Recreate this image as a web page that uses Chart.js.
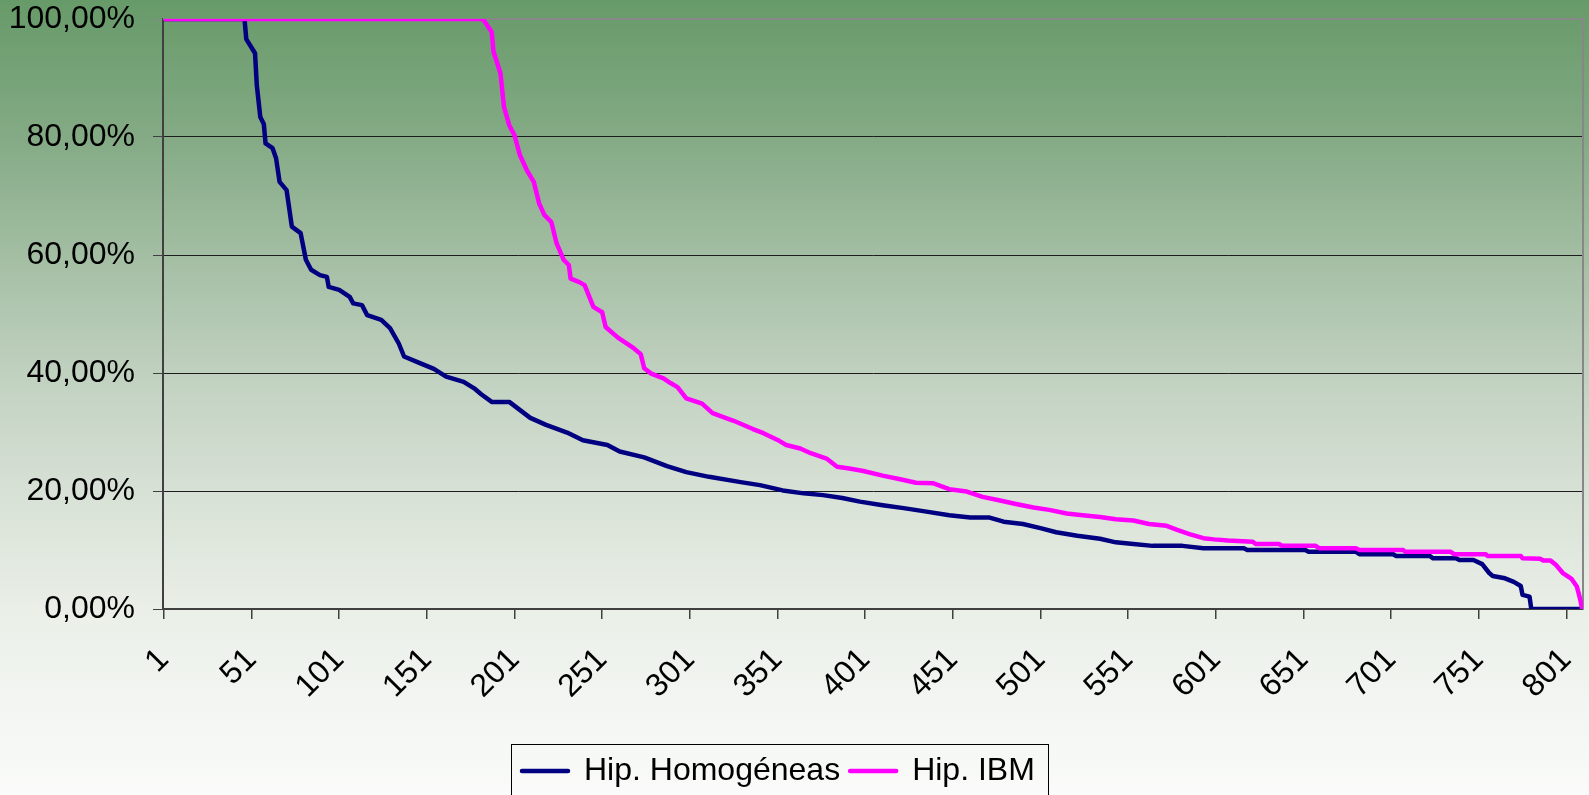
<!DOCTYPE html>
<html>
<head>
<meta charset="utf-8">
<script src="https://cdn.jsdelivr.net/npm/chart.js@4.4.1/dist/chart.umd.min.js"></script>
<style>
  html, body { margin: 0; padding: 0; background: #fff; }
  #wrap { position: relative; width: 1589px; height: 795px; }
</style>
</head>
<body>
<div id="wrap"><canvas id="chart"></canvas></div>
<script>
const seriesNames = ['Hip. Homogéneas', 'Hip. IBM']

// Hip. Homogéneas: case index / percentage
const homX = [1, 47, 48, 53, 54, 56, 58, 59, 63, 65, 67, 71, 74, 79, 82, 85, 90, 94, 95, 101,
  107, 109, 114, 117, 125, 130, 135, 138, 146, 155, 162, 172, 178, 182, 188, 198, 210, 219, 231, 240,
  254, 261, 275, 288, 299, 312, 330, 341, 354, 366, 377, 388, 398, 411, 423, 436, 449, 461, 472, 480,
  491, 501, 510, 522, 535, 544, 554, 565, 582, 594, 617, 619, 652, 654, 681, 683, 702, 704, 723, 725,
  738, 740, 748, 753, 757, 759, 766, 771, 775, 776, 780, 781, 810]
const homY = [100, 100, 96.6, 94.2, 88.8, 83.4, 82.2, 78.9, 78.1, 76.4, 72.4, 71.0, 64.8, 63.7, 59.2, 57.5, 56.6, 56.3, 54.6, 54.1,
  52.9, 51.8, 51.5, 49.8, 49.0, 47.6, 45.0, 42.8, 41.8, 40.7, 39.4, 38.5, 37.4, 36.4, 35.1, 35.1, 32.4, 31.2, 29.9, 28.6,
  27.8, 26.7, 25.7, 24.2, 23.2, 22.4, 21.5, 21.0, 20.1, 19.6, 19.3, 18.8, 18.2, 17.6, 17.1, 16.5, 15.9, 15.5, 15.5, 14.8,
  14.4, 13.7, 13.0, 12.4, 11.9, 11.3, 11.0, 10.7, 10.7, 10.3, 10.3, 10.0, 10.0, 9.7, 9.7, 9.3, 9.3, 9.0, 9.0, 8.6,
  8.6, 8.3, 8.3, 7.6, 6.1, 5.6, 5.2, 4.6, 3.9, 2.4, 2.1, 0, 0]

// Hip. IBM
const ibmX = [1, 183, 188, 189, 193, 195, 198, 201, 204, 208, 212, 215, 218, 222, 225, 229, 232, 233, 238, 241,
  246, 251, 253, 260, 269, 273, 275, 279, 286, 290, 294, 299, 308, 314, 326, 337, 343, 352, 356, 364,
  370, 379, 385, 392, 400, 411, 421, 430, 440, 449, 459, 468, 478, 487, 497, 506, 516, 525, 535, 544,
  554, 563, 573, 579, 586, 594, 600, 608, 622, 624, 637, 639, 658, 660, 681, 683, 708, 709, 735, 737,
  755, 756, 775, 776, 786, 788, 792, 795, 799, 804, 807, 808, 809, 810]
const ibmY = [100, 100, 97.8, 94.5, 90.8, 85.1, 82.0, 80.3, 77.0, 74.4, 72.4, 68.8, 66.8, 65.6, 62.0, 59.2, 58.3, 56.0, 55.4, 54.9,
  51.2, 50.3, 47.8, 46.0, 44.2, 43.2, 40.8, 39.9, 39.1, 38.3, 37.6, 35.7, 34.8, 33.2, 31.9, 30.5, 29.8, 28.5, 27.8, 27.2,
  26.4, 25.5, 24.1, 23.8, 23.4, 22.6, 22.0, 21.4, 21.3, 20.3, 19.9, 19.0, 18.4, 17.8, 17.2, 16.8, 16.2, 15.9, 15.6, 15.2,
  15.0, 14.4, 14.1, 13.4, 12.7, 12.0, 11.8, 11.6, 11.4, 11.0, 11.0, 10.7, 10.7, 10.3, 10.3, 10.0, 10.0, 9.7, 9.7, 9.3,
  9.3, 9.0, 9.0, 8.6, 8.5, 8.2, 8.2, 7.5, 6.1, 5.1, 3.8, 2.7, 1.5, 0]

const xTickValues = [1, 51, 101, 151, 201, 251, 301, 351, 401, 451, 501, 551, 601, 651, 701, 751, 801]
const xTickLabels = ['1', '51', '101', '151', '201', '251', '301', '351', '401', '451', '501', '551', '601', '651', '701', '751', '801']
const yTickValues = [0, 20, 40, 60, 80, 100]
const yTickLabels = ['0,00%', '20,00%', '40,00%', '60,00%', '80,00%', '100,00%']

const FONT = '"Liberation Sans", Arial, sans-serif'

const toPoints = (xs, ys) => xs.map((x, i) => ({x: x, y: ys[i]}))

// green to white fill behind everything
const backgroundPlugin = {
  id: 'background',
  beforeDraw(chart) {
    const {ctx, width, height} = chart
    const g = ctx.createLinearGradient(0, 0, 0, height)
    g.addColorStop(0, '#679a69')
    g.addColorStop(0.17, '#83aa84')
    g.addColorStop(0.33, '#a5bfa5')
    g.addColorStop(0.48, '#c2d2c1')
    g.addColorStop(0.63, '#d9e2d7')
    g.addColorStop(0.78, '#ebf0e9')
    g.addColorStop(1, '#fafbfa')
    ctx.save()
    ctx.fillStyle = g
    ctx.fillRect(0, 0, width, height)
    ctx.restore()
  }
}

// grey top and right edges of the plot area
const framePlugin = {
  id: 'frame',
  beforeDatasetsDraw(chart) {
    const {ctx, chartArea: a} = chart
    ctx.save()
    ctx.strokeStyle = '#878787'
    ctx.lineWidth = 2
    ctx.beginPath()
    ctx.moveTo(a.left, a.top)
    ctx.lineTo(a.right, a.top)
    ctx.lineTo(a.right, a.bottom)
    ctx.stroke()
    ctx.restore()
  }
}

// put the legend where the original has it (first line sample at x=522, text centre at y=771)
const legendPlacePlugin = {
  id: 'legendPlace',
  afterLayout(chart) {
    const lg = chart.legend
    if (!lg || !lg.legendHitBoxes || !lg.legendHitBoxes.length) return
    const pad = lg.options.labels.padding
    const itemH = lg.legendHitBoxes[0].height
    // same formulas the legend uses when it draws (align: center)
    const curLeft = (lg.left + pad + lg.right - lg.lineWidths[0]) / 2
    const curMid = lg.top + pad + itemH / 2
    const dx = 522 - curLeft
    const dy = 771 - curMid
    lg.left += dx
    lg.right += dx
    lg.top += dy
    lg.bottom += dy
  }
}

// box round the legend
const legendFramePlugin = {
  id: 'legendFrame',
  afterDraw(chart) {
    const lg = chart.legend
    if (!lg || !lg.legendHitBoxes || !lg.legendHitBoxes.length) return
    const pad = lg.options.labels.padding
    const boxes = lg.legendHitBoxes
    const first = boxes[0]
    const last = boxes[boxes.length - 1]
    const left = Math.round(first.left - 11) + 0.5
    const right = Math.round(last.left + last.width + 13) + 0.5
    const mid = lg.top + pad + first.height / 2
    const top = Math.round(mid - 27) + 0.5
    const ctx = chart.ctx
    ctx.save()
    ctx.strokeStyle = '#000'
    ctx.lineWidth = 1
    ctx.strokeRect(left, top, right - left, 120)
    ctx.restore()
  }
}

const config = {
  type: 'line',
  data: {
    datasets: [
      {
        label: seriesNames[0],
        data: toPoints(homX, homY),
        borderColor: '#000080',
        backgroundColor: '#000080',
        borderWidth: 4.5,
        pointRadius: 0,
        tension: 0,
        fill: false,
        borderJoinStyle: 'round',
        order: 2
      },
      {
        label: seriesNames[1],
        data: toPoints(ibmX, ibmY),
        borderColor: '#ff00ff',
        backgroundColor: '#ff00ff',
        borderWidth: 4.5,
        pointRadius: 0,
        tension: 0,
        fill: false,
        borderJoinStyle: 'round',
        order: 1
      }
    ]
  },
  options: {
    responsive: true,
    maintainAspectRatio: false,
    animation: false,
    devicePixelRatio: 1,
    events: [],
    layout: {
      padding: {top: 19, right: 6, bottom: 0, left: 0}
    },
    plugins: {
      tooltip: {enabled: false},
      legend: {
        position: 'bottom',
        labels: {
          font: {family: FONT, size: 32},
          color: '#000',
          boxWidth: 46,
          boxHeight: 0,
          padding: 10,
          sort: (a, b) => a.datasetIndex - b.datasetIndex
        }
      }
    },
    scales: {
      x: {
        type: 'linear',
        min: 0.5,
        max: 810.5,
        afterBuildTicks: (scale) => {
          scale.ticks = xTickValues.map(v => ({value: v}))
        },
        afterFit: (scale) => {
          // plot bottom fixed at y=609
          const legendH = scale.chart.legend ? scale.chart.legend.height : 0
          scale.height = scale.chart.height - 609 - legendH
          scale.paddingLeft = 0
          scale.paddingRight = 0
        },
        ticks: {
          autoSkip: false,
          minRotation: 45,
          maxRotation: 45,
          padding: 22,
          color: '#000',
          font: {family: FONT, size: 32},
          callback: (value, index) => xTickLabels[index]
        },
        grid: {
          drawOnChartArea: false,
          tickLength: 10,
          color: '#404040',
          lineWidth: 1.5
        },
        border: {color: '#404040', width: 2}
      },
      y: {
        min: 0,
        max: 100,
        afterBuildTicks: (scale) => {
          scale.ticks = yTickValues.map(v => ({value: v}))
        },
        afterFit: (scale) => {
          scale.width = 163
          scale.paddingTop = 0
          scale.paddingBottom = 0
        },
        ticks: {
          padding: 18,
          color: '#000',
          font: {family: FONT, size: 32},
          callback: (value, index) => yTickLabels[index]
        },
        grid: {
          color: '#1c1c1c',
          lineWidth: 1,
          tickLength: 10,
          tickColor: (ctx) => (ctx.tick && ctx.tick.value === 100 ? '#878787' : '#404040')
        },
        border: {color: '#404040', width: 2}
      }
    }
  },
  plugins: [backgroundPlugin, framePlugin, legendPlacePlugin, legendFramePlugin]
}

new Chart(document.getElementById('chart'), config)
</script>
</body>
</html>
